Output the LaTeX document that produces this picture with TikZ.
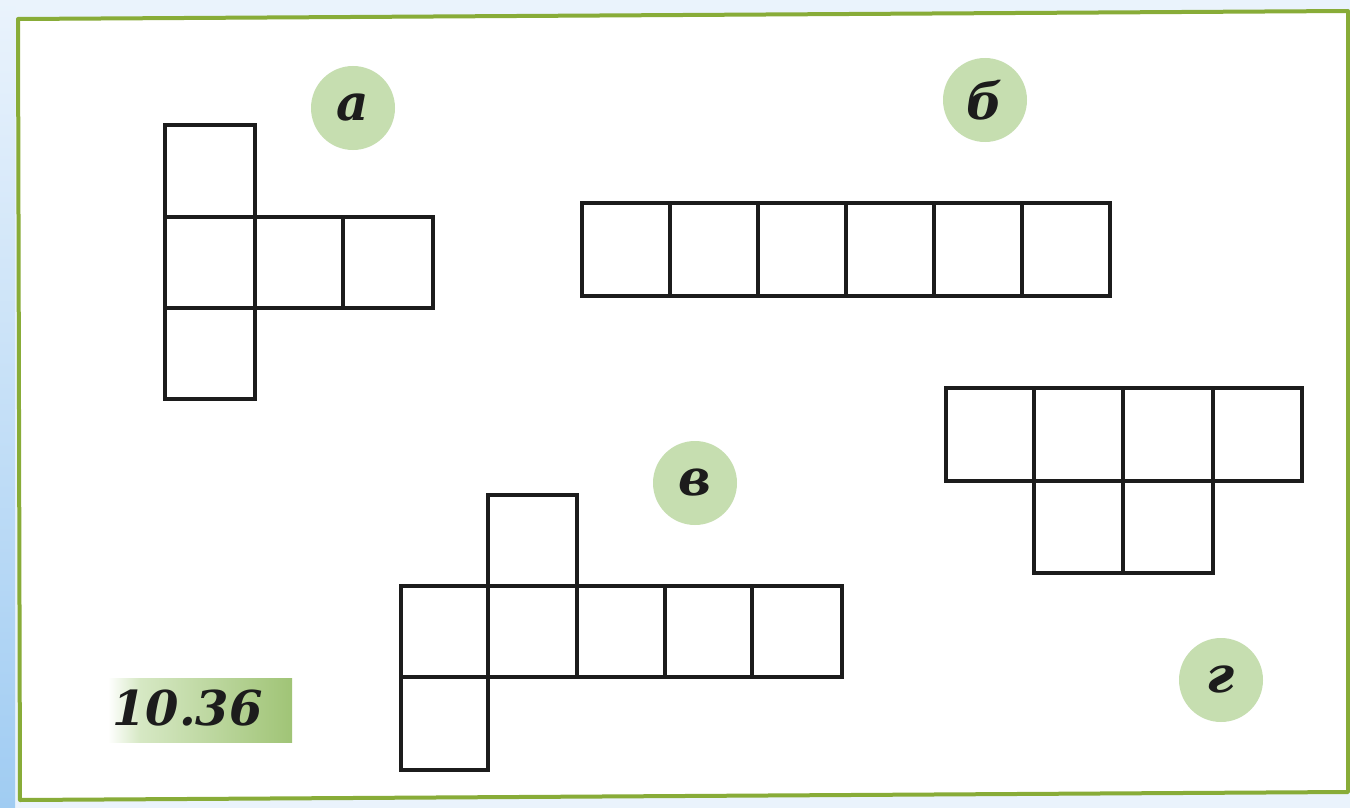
\documentclass[tikz,border=0pt]{standalone}
\usepackage{fontspec}
\newfontfamily\lblfont{DejaVu Serif}
\definecolor{framegreen}{RGB}{136,172,56}
\definecolor{circgreen}{RGB}{198,222,176}
\definecolor{boxgreen}{RGB}{160,196,118}
\definecolor{boxpale}{RGB}{214,232,196}
\definecolor{paleblue}{RGB}{234,243,252}
\definecolor{stripblue}{RGB}{160,204,242}
\definecolor{inkblack}{RGB}{28,28,28}
\tikzset{
  cellline/.style={draw=inkblack, line width=3.2pt, line join=miter},
  framestyle/.style={draw=framegreen, line width=4pt, line join=round},
  lettercirc/.style={circle, fill=circgreen, minimum size=84pt, inner sep=0pt,
    font=\lblfont\bfseries\itshape\fontsize{50}{56}\selectfont, text=inkblack},
}
\begin{document}
\begin{tikzpicture}[x=1pt,y=-1pt]
\useasboundingbox (0,0) rectangle (1350,808);
% background
\fill[paleblue] (0,0) rectangle (1350,808);
\shade[top color=paleblue, bottom color=stripblue] (0,0) rectangle (15,808);
% frame
\filldraw[framestyle, fill=white] (18,19) -- (1348,11) -- (1348,792) -- (20,800) -- cycle;
% net a
\draw[cellline] (165,125) rectangle (255,217);
\draw[cellline] (165,217) rectangle (255,308);
\draw[cellline] (255,217) rectangle (343,308);
\draw[cellline] (343,217) rectangle (433,308);
\draw[cellline] (165,308) rectangle (255,399);
% net b
\foreach \xa/\xb in {582/670,670/758,758/846,846/934,934/1022,1022/1110}
  \draw[cellline] (\xa,203) rectangle (\xb,296);
% net v
\draw[cellline] (488,495) rectangle (577,586);
\foreach \xa/\xb in {401/488,488/577,577/665,665/752,752/842}
  \draw[cellline] (\xa,586) rectangle (\xb,677);
\draw[cellline] (401,677) rectangle (488,770);
% net g
\foreach \xa/\xb in {946/1034,1034/1123,1123/1213,1213/1302}
  \draw[cellline] (\xa,388) rectangle (\xb,481);
\foreach \xa/\xb in {1034/1123,1123/1213}
  \draw[cellline] (\xa,481) rectangle (\xb,573);
% letter circles
\node[lettercirc] (la) at (353,108) {а};
\node[lettercirc] (lb) at (985,100) {б};
\node[lettercirc] (lv) at (695,483) {в};
\node[lettercirc] (lg) at (1221,680) {г};
% number label
\shade[left color=white, right color=boxpale] (108,678) rectangle (140,742);
\shade[left color=boxpale, right color=boxgreen] (140,678) rectangle (292,742);
\node[anchor=base west, inner sep=0pt, text=inkblack,
  font=\lblfont\bfseries\itshape\fontsize{48}{56}\selectfont] (num) at (112,725)
  {10.36};
\end{tikzpicture}
\end{document}
